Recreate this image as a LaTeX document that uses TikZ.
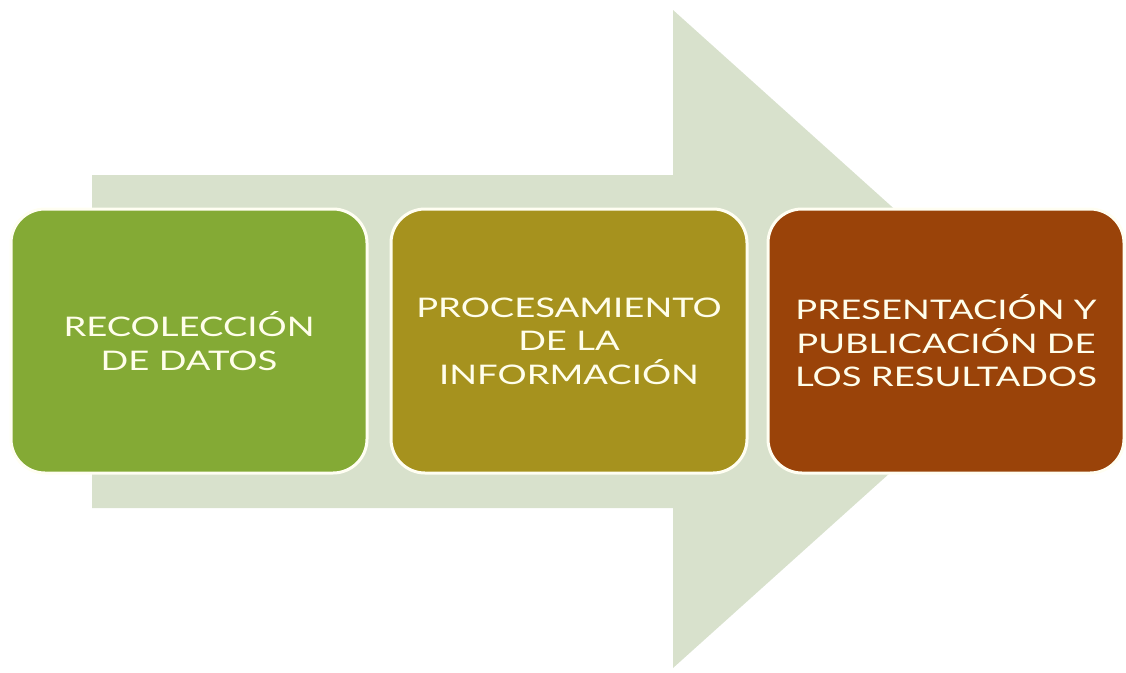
\documentclass[tikz,border=0pt]{standalone}
\usepackage{fontspec}
\setmainfont{Lato}[FakeStretch=1.35]
\begin{document}
\begin{tikzpicture}[x=1pt,y=-1pt,
  stage/.style={draw=white!95!yellow, line width=3pt, rounded corners=34pt,
    minimum width=356pt, minimum height=264pt, inner sep=0pt,
    text=white!92!yellow, align=center, font=\fontsize{27}{33.5}\selectfont},
  flow/.style={fill=arrowgreen}]
\definecolor{arrowgreen}{HTML}{D8E1CC}
\definecolor{stageA}{HTML}{84AA35}
\definecolor{stageB}{HTML}{A6921E}
\definecolor{stageC}{HTML}{9A4309}
\useasboundingbox (0,0) rectangle (1126,672);
% background arrow
\fill[flow] (92,175) -- (673,175) -- (673,10) -- (1039,339) -- (673,668) -- (673,508) -- (92,508) -- cycle;
% stages
\node[stage, fill=stageA] (s1) at (189,341) {RECOLECCIÓN\\DE DATOS};
\node[stage, fill=stageB] (s2) at (569,341) {PROCESAMIENTO\\DE LA\\INFORMACIÓN};
\node[stage, fill=stageC] (s3) at (946,341) {PRESENTACIÓN Y\\PUBLICACIÓN DE\\LOS RESULTADOS};
\end{tikzpicture}
\end{document}
